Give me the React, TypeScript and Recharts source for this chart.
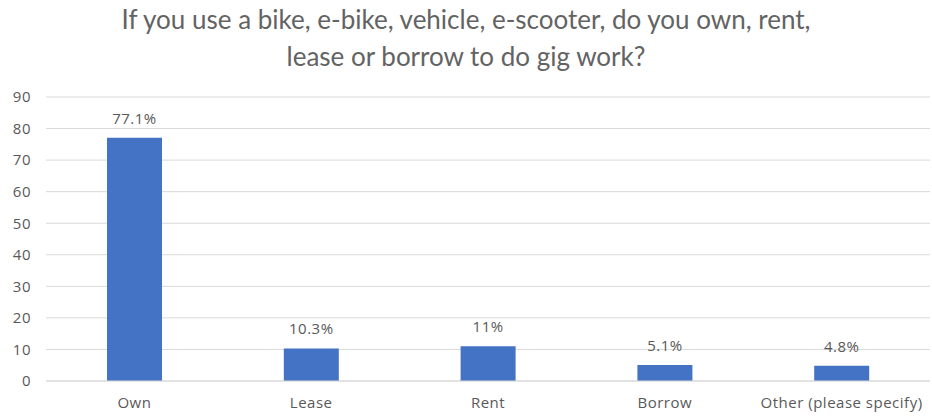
import { BarChart, Bar, XAxis, YAxis, CartesianGrid, LabelList } from 'recharts';

// Ownership of the vehicle used for gig work (% of respondents)
const categories = ['Own', 'Lease', 'Rent', 'Borrow', 'Other (please specify)'];
const shares = [77.1, 10.3, 11, 5.1, 4.8];
const yTicks = [0, 10, 20, 30, 40, 50, 60, 70, 80, 90];

const titleLines = [
  'If you use a bike, e-bike, vehicle, e-scooter, do you own, rent,',
  'lease or borrow to do gig work?',
];

const chartData = categories.map((name, i) => ({ name, value: shares[i] }));

const textStyle = {
  fill: '#595959',
  fontSize: 15,
  fontFamily: '"Open Sans", sans-serif',
  letterSpacing: 0.5,
};

export default function App() {
  return (
    <div
      style={{
        position: 'absolute',
        left: 0,
        top: 0,
        width: 932,
        height: 417,
        background: '#ffffff',
      }}
    >
      <div
        style={{
          position: 'absolute',
          left: 0,
          top: 1,
          width: 932,
          textAlign: 'center',
          color: '#636363',
          fontFamily: 'Lato, sans-serif',
          fontSize: 26,
          lineHeight: '37px',
        }}
      >
        {titleLines.map((line) => (
          <div key={line}>{line}</div>
        ))}
      </div>
      <BarChart
        width={932}
        height={417}
        data={chartData}
        margin={{ top: 97, right: 2, bottom: 6, left: 0 }}
        style={{ position: 'absolute', left: 0, top: 0 }}
      >
        <CartesianGrid vertical={false} stroke="#d9d9d9" />
        <XAxis
          dataKey="name"
          height={30}
          axisLine={{ stroke: '#d9d9d9' }}
          tickLine={false}
          tickSize={0}
          tickMargin={16}
          tick={textStyle}
          interval={0}
        />
        <YAxis
          width={46}
          domain={[0, 90]}
          ticks={yTicks}
          axisLine={false}
          tickLine={false}
          tickSize={0}
          tickMargin={15}
          tick={textStyle}
        />
        <Bar dataKey="value" fill="#4472c4" barSize={55} isAnimationActive={false}>
          <LabelList
            dataKey="value"
            position="top"
            offset={14}
            formatter={(v: number) => `${v}%`}
            style={textStyle}
          />
        </Bar>
      </BarChart>
    </div>
  );
}
